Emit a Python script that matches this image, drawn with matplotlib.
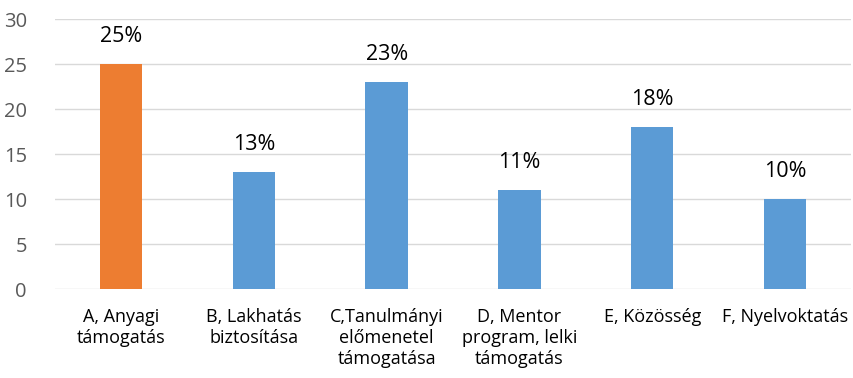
import matplotlib
matplotlib.use("Agg")
import matplotlib.pyplot as plt

categories = ["A, Anyagi\ntámogatás", "B, Lakhatás\nbiztosítása",
              "C,Tanulmányi\nelőmenetel\ntámogatása", "D, Mentor\nprogram, lelki\ntámogatás",
              "E, Közösség", "F, Nyelvoktatás"]
values = [25, 13, 23, 11, 18, 10]
labels = ["25%", "13%", "23%", "11%", "18%", "10%"]
colors = ["#ED7D31", "#5B9BD5", "#5B9BD5", "#5B9BD5", "#5B9BD5", "#5B9BD5"]

plt.rcParams['font.family'] = ['Open Sans', 'DejaVu Sans']

fig = plt.figure(figsize=(8.54, 3.78), dpi=100)
ax = fig.add_axes([0.064, 0.2354, 0.933, 0.7143])

x = range(len(values))
bars = ax.bar(x, values, width=0.32, color=colors, zorder=3)
for b, lab in zip(bars, labels):
    ax.text(b.get_x() + b.get_width() / 2, b.get_height() + 1.9, lab,
            ha="center", va="bottom", fontsize=15.5, color="black")

ax.set_xlim(-0.5, len(values) - 0.5)
ax.set_ylim(0, 30)
ax.set_yticks(range(0, 31, 5))
ax.yaxis.grid(True, color="#D9D9D9", linewidth=1, zorder=0)
for s in ax.spines.values():
    s.set_visible(False)
ax.tick_params(axis="both", length=0)
ax.tick_params(axis="y", labelsize=14.5, labelcolor="#595959", pad=20)
ax.set_xticks(list(x))
ax.set_xticklabels(categories, fontsize=13, linespacing=1.2)
ax.tick_params(axis="x", pad=14)

fig.savefig("out.png", dpi=100)
